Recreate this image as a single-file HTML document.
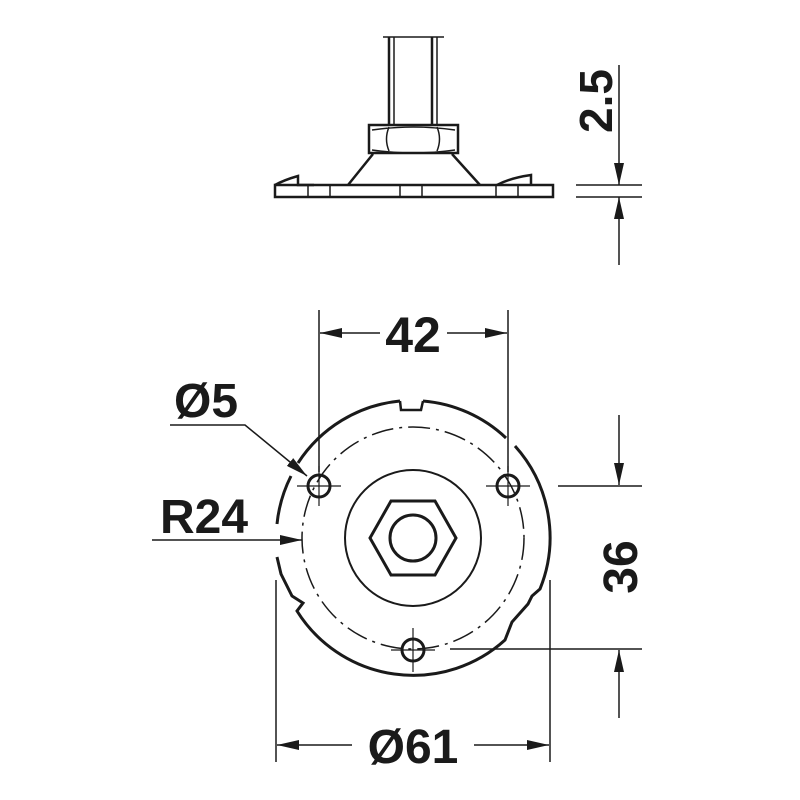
<!DOCTYPE html>
<html><head><style>html,body{margin:0;padding:0;background:#fff}svg{display:block}</style></head>
<body>
<svg width="800" height="800" viewBox="0 0 800 800" xmlns="http://www.w3.org/2000/svg" font-family="Liberation Sans, Arial, sans-serif" font-weight="bold" fill="none" stroke="#1a1a1a">
<defs>
<marker id="a" viewBox="0 0 22 10" refX="22" refY="5" markerWidth="22" markerHeight="10" markerUnits="userSpaceOnUse" orient="auto"><path d="M0,0 L22,5 L0,10z" fill="#1a1a1a" stroke="none"/></marker>
</defs>
<!-- top side view -->
<g stroke-width="2.5">
<line x1="389" y1="37" x2="389" y2="124"/><line x1="394" y1="37" x2="394" y2="124" stroke-width="1.5"/>
<line x1="432" y1="37" x2="432" y2="124"/><line x1="437" y1="37" x2="437" y2="124" stroke-width="1.5"/>
<line x1="383" y1="37" x2="444" y2="37" stroke-width="1.5"/>
<rect x="369" y="125" width="89" height="28"/>
<path d="M389,127 Q384,139 389,151 M437,127 Q442,139 437,151" stroke-width="1.5"/>
<path d="M372,130 Q413,124 455,130 M372,150 Q413,156 455,150" stroke-width="1.5"/>
<path d="M373,154 L348,185 M452,154 L480,185"/>
<rect x="275" y="185" width="278" height="12"/>
<path d="M314,185 L298,185 L298,176 Q284,180 275,185" />
<path d="M497,185 Q510,178 531,175 L531,185"/>
<path d="M308,185V197 M330,185V197 M400,185V197 M422,185V197 M496,185V197 M518,185V197" stroke-width="1.5"/>
</g>
<!-- 2.5 dim -->
<g stroke-width="1.5">
<line x1="619" y1="65" x2="619" y2="185" marker-end="url(#a)"/>
<line x1="619" y1="265" x2="619" y2="197" marker-end="url(#a)"/>
<line x1="576" y1="185" x2="642" y2="185"/><line x1="576" y1="197" x2="642" y2="197"/>
</g>
<text transform="translate(612,101) rotate(-90)" font-size="46" fill="#1a1a1a" stroke="none" text-anchor="middle">2.5</text>
<!-- plate -->
<g stroke-width="3">
<path d="M423,401 A137,137 0 0 1 506,438"/>
<path d="M515,446 A137,137 0 0 1 540,589 L532,596 L528,604 L512,622 L505,640 A137,137 0 0 1 297,611 L303,603 L292,596 L281,574 L277,557"/>
<path d="M277,524 A137,137 0 0 1 291,476"/>
<path d="M298,463 A137,137 0 0 1 400,401"/>
<path d="M400,401 L401,410 L421,410 L423,401" stroke-width="2.5"/>
</g>
<circle cx="413" cy="538" r="111" stroke-width="1.5" stroke-dasharray="22,6,3,6"/>
<circle cx="413" cy="538" r="68" stroke-width="2"/>
<polygon points="370,538 391,501 435,501 456,538 435,575 391,575" stroke-width="3"/>
<circle cx="413" cy="538" r="23" stroke-width="3"/>
<g stroke-width="3"><circle cx="319" cy="486" r="11"/><circle cx="508" cy="486" r="11"/><circle cx="413" cy="650" r="11"/></g>
<g stroke-width="1.2">
<path d="M297,486H341 M319,466V506 M486,486H530 M508,466V506 M391,650H435 M413,628V672"/>
</g>
<!-- 42 -->
<g stroke-width="1.5">
<line x1="319" y1="310" x2="319" y2="472"/><line x1="508" y1="310" x2="508" y2="472"/>
<line x1="380" y1="333" x2="320" y2="333" marker-end="url(#a)"/>
<line x1="447" y1="333" x2="507" y2="333" marker-end="url(#a)"/>
</g>
<text x="413" y="352" font-size="50" fill="#1a1a1a" stroke="none" text-anchor="middle">42</text>
<!-- Ø5 -->
<text x="206" y="417" font-size="48" fill="#1a1a1a" stroke="none" text-anchor="middle">Ø5</text>
<path d="M170,425 L245,425 L307,476" stroke-width="1.5" marker-end="url(#a)"/>
<!-- R24 -->
<text x="204" y="533" font-size="48" fill="#1a1a1a" stroke="none" text-anchor="middle">R24</text>
<line x1="152" y1="540" x2="302" y2="540" stroke-width="1.5" marker-end="url(#a)"/>
<!-- 36 -->
<g stroke-width="1.5">
<line x1="558" y1="486" x2="642" y2="486"/><line x1="450" y1="649" x2="642" y2="649"/>
<line x1="619" y1="415" x2="619" y2="485" marker-end="url(#a)"/>
<line x1="619" y1="718" x2="619" y2="650" marker-end="url(#a)"/>
</g>
<text transform="translate(637,567) rotate(-90)" font-size="48" fill="#1a1a1a" stroke="none" text-anchor="middle">36</text>
<!-- Ø61 -->
<g stroke-width="1.5">
<line x1="276" y1="580" x2="276" y2="762"/><line x1="550" y1="580" x2="550" y2="762"/>
<line x1="352" y1="745" x2="277" y2="745" marker-end="url(#a)"/>
<line x1="474" y1="745" x2="549" y2="745" marker-end="url(#a)"/>
</g>
<text x="413" y="763" font-size="48" fill="#1a1a1a" stroke="none" text-anchor="middle">Ø61</text>
</svg>
</body></html>
